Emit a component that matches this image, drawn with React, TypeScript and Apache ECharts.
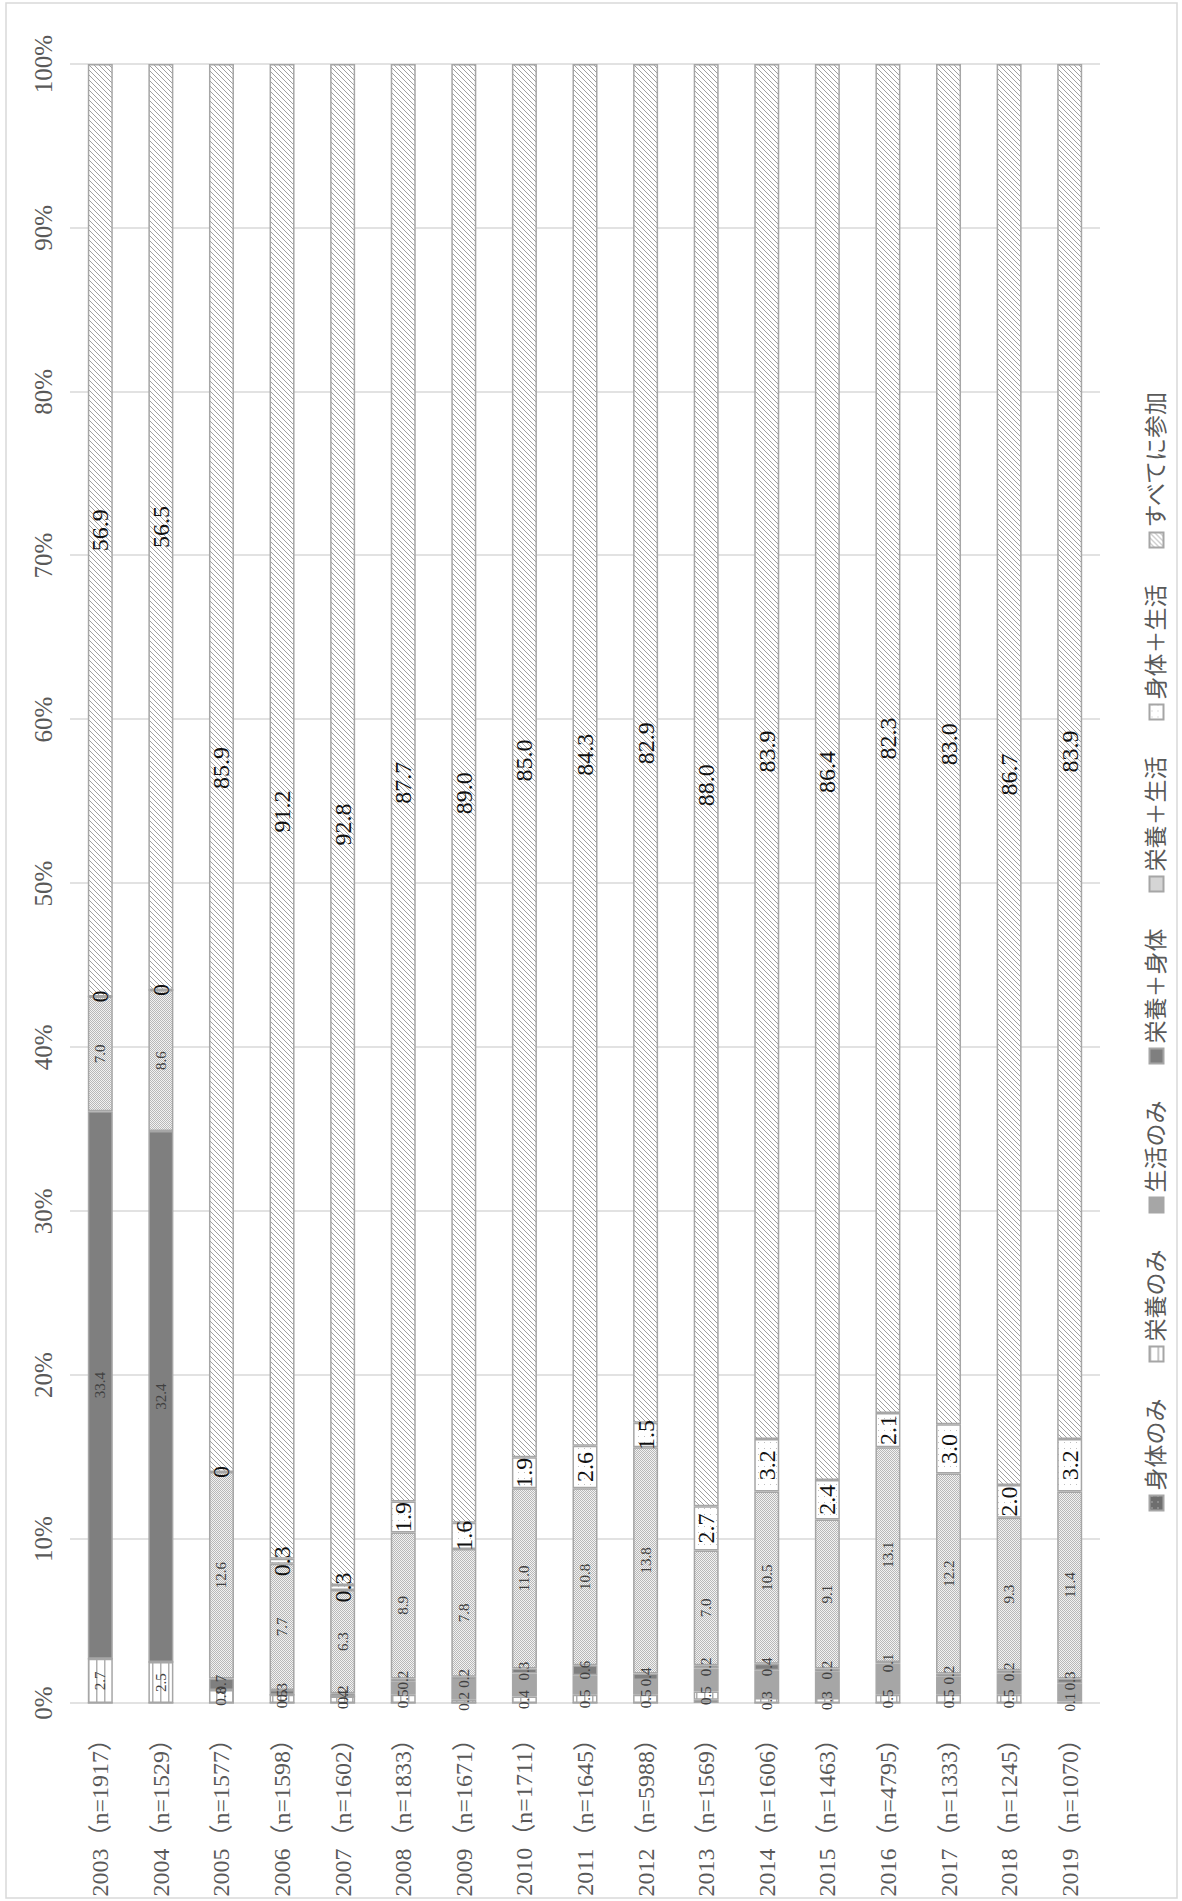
import React, { useEffect, useRef } from 'react';
import * as echarts from 'echarts';

const categories = [
  '2003（n=1917）', '2004（n=1529）', '2005（n=1577）', '2006（n=1598）', '2007（n=1602）',
  '2008（n=1833）', '2009（n=1671）', '2010（n=1711）', '2011（n=1645）', '2012（n=5988）',
  '2013（n=1569）', '2014（n=1606）', '2015（n=1463）', '2016（n=4795）', '2017（n=1333）',
  '2018（n=1245）', '2019（n=1070）',
];

const seriesNames = ['身体のみ', '栄養のみ', '生活のみ', '栄養＋身体', '栄養＋生活', '身体＋生活', 'すべてに参加'];

const shintaiOnly = [0, 0, 0, 0, 0, 0, 0, 0, 0, 0, 0.2, 0, 0, 0, 0, 0, 0];
const eiyouOnly = [2.7, 2.5, 0.8, 0.5, 0.4, 0.5, 0.2, 0.4, 0.5, 0.5, 0.5, 0.3, 0.3, 0.5, 0.5, 0.5, 0.1];
const seikatsuOnly = [0, 0, 0, 0, 0, 0.8, 1.2, 1.4, 1.2, 0.9, 1.4, 1.7, 1.6, 1.9, 1.1, 1.3, 1.1];
const eiyouShintai = [33.4, 32.4, 0.7, 0.3, 0.2, 0.2, 0.2, 0.3, 0.6, 0.4, 0.2, 0.4, 0.2, 0.1, 0.2, 0.2, 0.3];
const eiyouSeikatsu = [7.0, 8.6, 12.6, 7.7, 6.3, 8.9, 7.8, 11.0, 10.8, 13.8, 7.0, 10.5, 9.1, 13.1, 12.2, 9.3, 11.4];
const shintaiSeikatsu = [0, 0, 0, 0.3, 0.3, 1.9, 1.6, 1.9, 2.6, 1.5, 2.7, 3.2, 2.4, 2.1, 3.0, 2.0, 3.2];
const allThree = [56.9, 56.5, 85.9, 91.2, 92.8, 87.7, 89.0, 85.0, 84.3, 82.9, 88.0, 83.9, 86.4, 82.3, 83.0, 86.7, 83.9];

const axisMin = 0;
const axisMax = 100;
const axisInterval = 10;

const FONT = "'Liberation Serif', 'Noto Sans CJK JP', serif";

function makePattern(w: number, h: number, bg: string, draw: (ctx: CanvasRenderingContext2D) => void) {
  const c = document.createElement('canvas');
  c.width = w;
  c.height = h;
  const ctx = c.getContext('2d') as CanvasRenderingContext2D;
  ctx.fillStyle = bg;
  ctx.fillRect(0, 0, w, h);
  draw(ctx);
  return { image: c, repeat: 'repeat', imageWidth: w, imageHeight: h } as any;
}

export default function App() {
  const ref = useRef<HTMLDivElement>(null);

  useEffect(() => {
    if (!ref.current) return;
    const chart = echarts.init(ref.current, null, { renderer: 'svg' });

    const diag = makePattern(5, 5, '#ffffff', (ctx) => {
      ctx.strokeStyle = '#a0a0a0';
      ctx.lineWidth = 1;
      ctx.beginPath();
      for (let k = -1; k <= 1; k++) {
        ctx.moveTo(k * 5, 5);
        ctx.lineTo(k * 5 + 5, 0);
      }
      ctx.stroke();
    });
    const checker = makePattern(2, 2, '#f2f2f2', (ctx) => {
      ctx.fillStyle = '#b8b8b8';
      ctx.fillRect(0, 0, 1, 1);
      ctx.fillRect(1, 1, 1, 1);
    });
    const hLines = makePattern(8, 8, '#ffffff', (ctx) => {
      ctx.fillStyle = '#b0b0b0';
      ctx.fillRect(0, 0, 8, 1.5);
    });
    const sparseDots = makePattern(6, 6, '#ffffff', (ctx) => {
      ctx.fillStyle = '#c0c0c0';
      ctx.fillRect(2, 2, 1, 1);
    });
    const darkDots = makePattern(6, 6, '#6e6e6e', (ctx) => {
      ctx.fillStyle = '#e0e0e0';
      ctx.fillRect(2, 2, 1, 1);
    });

    const fmt = (p: any) => (Number(p.value) === 0 ? '0' : Number(p.value).toFixed(1));
    const smallLabel = {
      show: true, position: 'inside', fontSize: 15, color: '#404040', fontFamily: FONT,
      formatter: fmt, textBorderWidth: 0,
    };
    const bigLabel = {
      show: true, position: 'inside', fontSize: 24, color: '#111111', fontFamily: FONT,
      formatter: fmt, textBorderWidth: 0,
    };
    const noLabel = { show: false };

    const seriesData = [shintaiOnly, eiyouOnly, seikatsuOnly, eiyouShintai, eiyouSeikatsu, shintaiSeikatsu, allThree];
    const colors = [darkDots, hLines, '#a6a6a6', '#7f7f7f', checker, sparseDots, diag];
    const labels = [noLabel, smallLabel, noLabel, smallLabel, smallLabel, bigLabel, bigLabel];

    const series = seriesNames.map((name, i) => ({
      type: 'bar',
      name,
      stack: 'total',
      data: seriesData[i],
      barWidth: 25,
      itemStyle: { color: colors[i], borderColor: '#a6a6a6', borderWidth: 1.5 },
      label: labels[i],
      emphasis: { disabled: true },
    }));

    chart.setOption({
      animation: false,
      backgroundColor: '#ffffff',
      textStyle: { fontFamily: FONT },
      grid: { left: 198, right: 64, top: 70, bottom: 82, containLabel: false },
      xAxis: {
        type: 'value',
        position: 'top',
        min: axisMin,
        max: axisMax,
        interval: axisInterval,
        axisLine: { show: false },
        axisTick: { show: false },
        splitLine: { show: true, lineStyle: { color: '#d9d9d9', width: 1.5 } },
        axisLabel: {
          formatter: '{value}%', fontSize: 25, color: '#595959', fontFamily: FONT, margin: 14,
        },
      },
      yAxis: {
        type: 'category',
        inverse: true,
        data: categories,
        axisLine: { show: false },
        axisTick: { show: false },
        axisLabel: { fontSize: 24, color: '#595959', fontFamily: FONT, margin: 24 },
      },
      legend: {
        show: true,
        data: seriesNames,
        orient: 'horizontal',
        left: 'center',
        top: 1140,
        itemWidth: 15,
        itemHeight: 14,
        itemGap: 36,
        icon: 'rect',
        textStyle: { fontSize: 23, color: '#595959', fontFamily: FONT },
      },
      graphic: [
        {
          type: 'rect',
          shape: { x: 3, y: 6, width: 1895, height: 1171 },
          style: { fill: 'none', stroke: '#d9d9d9', lineWidth: 1.5 },
          silent: true,
        },
      ],
      series,
    });

    return () => chart.dispose();
  }, []);

  return (
    <div style={{ position: 'absolute', left: 0, top: 0, width: 1182, height: 1901, overflow: 'hidden', background: '#ffffff' }}>
      <div
        ref={ref}
        style={{
          position: 'absolute', left: 0, top: 0, width: 1901, height: 1182,
          transformOrigin: '0 0', transform: 'translateY(1901px) rotate(-90deg)',
        }}
      />
    </div>
  );
}
